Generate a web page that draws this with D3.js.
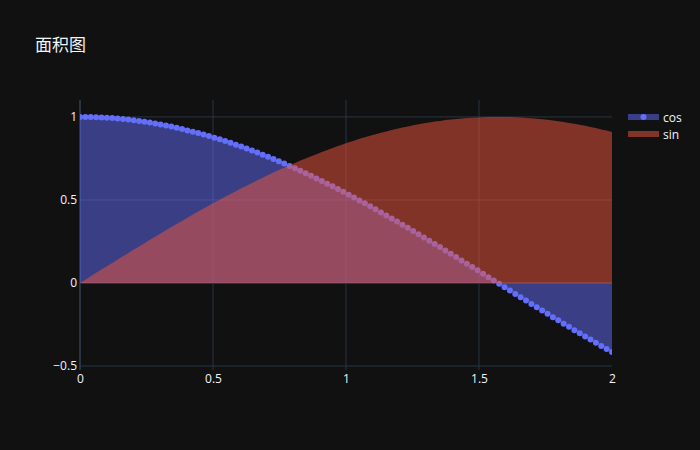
<!DOCTYPE html>
<html>
<head>
<meta charset="utf-8">
<script src="https://cdn.jsdelivr.net/npm/d3@7"></script>
<style>
  body { margin: 0; background: #111111; }
  text { font-family: "Open Sans", "Noto Sans CJK SC", sans-serif; }
</style>
</head>
<body>
<div id="chart"></div>
<script>
// chart values
var xs = [0, 0.0202, 0.0404, 0.0606, 0.0808, 0.1010, 0.1212, 0.1414, 0.1616, 0.1818,
  0.2020, 0.2222, 0.2424, 0.2626, 0.2828, 0.3030, 0.3232, 0.3434, 0.3636, 0.3838,
  0.4040, 0.4242, 0.4444, 0.4646, 0.4848, 0.5051, 0.5253, 0.5455, 0.5657, 0.5859,
  0.6061, 0.6263, 0.6465, 0.6667, 0.6869, 0.7071, 0.7273, 0.7475, 0.7677, 0.7879,
  0.8081, 0.8283, 0.8485, 0.8687, 0.8889, 0.9091, 0.9293, 0.9495, 0.9697, 0.9899,
  1.0101, 1.0303, 1.0505, 1.0707, 1.0909, 1.1111, 1.1313, 1.1515, 1.1717, 1.1919,
  1.2121, 1.2323, 1.2525, 1.2727, 1.2929, 1.3131, 1.3333, 1.3535, 1.3737, 1.3939,
  1.4141, 1.4343, 1.4545, 1.4747, 1.4949, 1.5152, 1.5354, 1.5556, 1.5758, 1.5960,
  1.6162, 1.6364, 1.6566, 1.6768, 1.6970, 1.7172, 1.7374, 1.7576, 1.7778, 1.7980,
  1.8182, 1.8384, 1.8586, 1.8788, 1.8990, 1.9192, 1.9394, 1.9596, 1.9798, 2.0];

var cosVals = [1.000, 1.000, 0.999, 0.998, 0.997, 0.995, 0.993, 0.990, 0.987, 0.984,
  0.980, 0.975, 0.971, 0.966, 0.960, 0.954, 0.948, 0.942, 0.935, 0.927,
  0.919, 0.911, 0.903, 0.894, 0.885, 0.875, 0.865, 0.855, 0.844, 0.833,
  0.822, 0.810, 0.798, 0.786, 0.773, 0.760, 0.747, 0.733, 0.720, 0.705,
  0.691, 0.676, 0.661, 0.646, 0.630, 0.614, 0.598, 0.582, 0.566, 0.549,
  0.532, 0.515, 0.497, 0.480, 0.462, 0.444, 0.425, 0.407, 0.389, 0.370,
  0.351, 0.332, 0.313, 0.294, 0.274, 0.255, 0.235, 0.216, 0.196, 0.176,
  0.156, 0.136, 0.116, 0.096, 0.076, 0.056, 0.035, 0.015, -0.005, -0.025,
  -0.045, -0.066, -0.086, -0.106, -0.126, -0.146, -0.166, -0.186, -0.206, -0.225,
  -0.245, -0.264, -0.284, -0.303, -0.322, -0.341, -0.360, -0.379, -0.398, -0.416];

var sinVals = [0.000, 0.020, 0.040, 0.061, 0.081, 0.101, 0.121, 0.141, 0.161, 0.181,
  0.201, 0.220, 0.240, 0.260, 0.279, 0.298, 0.318, 0.337, 0.356, 0.374,
  0.393, 0.412, 0.430, 0.448, 0.466, 0.484, 0.501, 0.519, 0.536, 0.553,
  0.570, 0.586, 0.602, 0.618, 0.634, 0.650, 0.665, 0.680, 0.694, 0.709,
  0.723, 0.737, 0.750, 0.763, 0.776, 0.789, 0.801, 0.813, 0.825, 0.836,
  0.847, 0.857, 0.868, 0.878, 0.887, 0.896, 0.905, 0.913, 0.921, 0.929,
  0.936, 0.943, 0.950, 0.956, 0.962, 0.967, 0.972, 0.976, 0.981, 0.984,
  0.988, 0.991, 0.993, 0.995, 0.997, 0.998, 0.999, 1.000, 1.000, 1.000,
  0.999, 0.998, 0.996, 0.994, 0.992, 0.989, 0.986, 0.983, 0.979, 0.974,
  0.970, 0.964, 0.959, 0.953, 0.947, 0.940, 0.933, 0.925, 0.918, 0.909];

var seriesNames = ['cos', 'sin'];
var xTicks = [0, 0.5, 1, 1.5, 2];
var yTicks = [-0.5, 0, 0.5, 1];
var titleText = '面积图';

// layout
var width = 700, height = 450;
var margin = { top: 100, left: 80, right: 88, bottom: 80 };
var plotW = width - margin.left - margin.right,
    plotH = height - margin.top - margin.bottom;

var gridColor = '#283442', textColor = '#f2f5fa';
var cosColor = '#636efa', sinColor = '#EF553B';

var svg = d3.select('#chart').append('svg')
  .attr('width', width).attr('height', height)
  .style('background', '#111111');

// title
svg.append('text').attr('x', 35).attr('y', 51)
  .attr('font-size', 17).attr('fill', textColor).text(titleText);

var x = d3.scaleLinear().domain([0, 2]).range([0, plotW]);
var y = d3.scaleLinear().domain([-0.524, 1.102]).range([plotH, 0]);

var g = svg.append('g').attr('transform', 'translate(' + margin.left + ',' + margin.top + ')');

svg.append('clipPath').attr('id', 'clip')
  .append('rect').attr('x', 0).attr('y', 0).attr('width', plotW).attr('height', plotH);

// grid lines (none on the plot edges)
g.selectAll('.xgrid').data(xTicks.filter(function (d) { return d !== 0 && d !== 2; })).enter()
  .append('line').attr('x1', function (d) { return x(d); }).attr('x2', function (d) { return x(d); })
  .attr('y1', 0).attr('y2', plotH).attr('stroke', gridColor).attr('stroke-width', 1);
g.selectAll('.ygrid').data(yTicks.filter(function (d) { return d !== 0; })).enter()
  .append('line').attr('y1', function (d) { return y(d); }).attr('y2', function (d) { return y(d); })
  .attr('x1', 0).attr('x2', plotW).attr('stroke', gridColor).attr('stroke-width', 1);

// zero lines
g.append('line').attr('x1', x(0)).attr('x2', x(0)).attr('y1', 0).attr('y2', plotH)
  .attr('stroke', gridColor).attr('stroke-width', 2);
g.append('line').attr('x1', 0).attr('x2', plotW).attr('y1', y(0)).attr('y2', y(0))
  .attr('stroke', gridColor).attr('stroke-width', 2);

// axes (labels only, plotly style)
var yAxis = d3.axisLeft(y).tickValues(yTicks).tickSize(0).tickPadding(3).tickFormat(d3.format('~g'));
var yg = g.append('g').call(yAxis);
yg.select('.domain').remove();
yg.selectAll('text').attr('font-size', 12).attr('fill', textColor).style('font-family', '"Open Sans", sans-serif');

var xAxis = d3.axisBottom(x).tickValues(xTicks).tickSize(0).tickPadding(4).tickFormat(d3.format('~g'));
var xg = g.append('g').attr('transform', 'translate(0,' + plotH + ')').call(xAxis);
xg.select('.domain').remove();
xg.selectAll('text').attr('font-size', 12).attr('fill', textColor).style('font-family', '"Open Sans", sans-serif');

var cosData = xs.map(function (d, i) { return [d, cosVals[i]]; });
var sinData = xs.map(function (d, i) { return [d, sinVals[i]]; });

var area = d3.area()
  .x(function (d) { return x(d[0]); })
  .y0(y(0))
  .y1(function (d) { return y(d[1]); });

var plot = g.append('g').attr('clip-path', 'url(#clip)');

// cos: fill + markers
plot.append('path').datum(cosData).attr('d', area)
  .attr('fill', cosColor).attr('fill-opacity', 0.5);
plot.selectAll('.cosdot').data(cosData).enter().append('circle')
  .attr('cx', function (d) { return x(d[0]); })
  .attr('cy', function (d) { return y(d[1]); })
  .attr('r', 3).attr('fill', cosColor);

// sin: fill only, drawn above
plot.append('path').datum(sinData).attr('d', area)
  .attr('fill', sinColor).attr('fill-opacity', 0.5);

// legend
var legend = svg.append('g').attr('transform', 'translate(628,117)');
seriesNames.forEach(function (name, i) {
  var item = legend.append('g').attr('transform', 'translate(0,' + (i * 17) + ')');
  var col = i === 0 ? cosColor : sinColor;
  item.append('rect').attr('x', 0).attr('y', -3).attr('width', 31).attr('height', 6)
    .attr('fill', col).attr('fill-opacity', 0.5);
  if (i === 0) {
    item.append('circle').attr('cx', 15.5).attr('cy', 0).attr('r', 3).attr('fill', cosColor);
  }
  item.append('text').attr('x', 35).attr('y', 4.5).attr('font-size', 12)
    .attr('fill', textColor).text(name);
});
</script>
</body>
</html>
